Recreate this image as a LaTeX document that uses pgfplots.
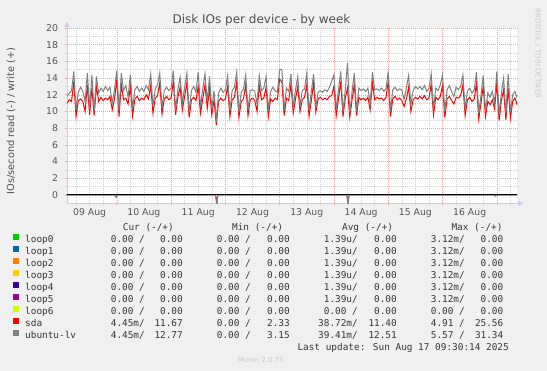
\documentclass[border=0pt]{standalone}
\usepackage{fontspec}
\setmainfont{DejaVu Sans}
\newfontfamily\mono{DejaVu Sans Mono}
\usepackage{pgfplots}
\pgfplotsset{compat=1.18}
\usepackage{pgfplotstable}
\usetikzlibrary{arrows.meta}

\definecolor{bgc}{RGB}{240,240,240}
\definecolor{mgrid}{RGB}{240,165,165}
\definecolor{mingrid}{RGB}{212,212,212}
\definecolor{axc}{RGB}{200,204,240}
\definecolor{titc}{RGB}{80,80,80}
\definecolor{tickc}{RGB}{85,85,85}
\definecolor{legc}{RGB}{55,55,55}
\definecolor{wmc}{RGB}{200,200,200}
\definecolor{cloopa}{HTML}{00CC00}
\definecolor{cloopb}{HTML}{0066B3}
\definecolor{cloopc}{HTML}{FF8000}
\definecolor{cloopd}{HTML}{FFCC00}
\definecolor{cloope}{HTML}{330099}
\definecolor{cloopf}{HTML}{990099}
\definecolor{cloopg}{HTML}{CCFF00}
\definecolor{csda}{HTML}{FF0000}
\definecolor{clv}{HTML}{808080}

% hour since 09 Aug 00:00, write IOs/s
\pgfplotstableread{
h sda lv
2 11.0 11.8
3 11.4 12.2
4 11.2 12.5
5 13.6 14.8
6 9.4 10.2
7 11.3 12.3
8 11.5 12.9
9 11.2 12.4
10 10.0 11.2
11 13.2 14.6
12 9.6 10.3
13 12.8 14.4
14 9.5 10.0
15 13.0 14.2
16 11.2 12.2
17 11.7 12.8
18 11.3 12.4
19 11.6 13.0
20 11.4 12.5
21 11.8 12.9
22 10.2 11.0
23 11.5 12.6
24 13.8 14.9
25 9.4 10.1
26 13.2 14.6
27 11.4 12.5
28 11.6 13.1
29 10.9 11.7
30 13.0 14.4
31 9.5 10.3
32 11.5 12.6
33 11.8 13.0
34 11.3 12.4
35 11.6 12.8
36 11.4 12.4
37 12.0 13.1
38 11.5 12.6
39 13.1 14.5
40 9.8 10.6
41 11.6 12.7
42 11.9 13.2
43 13.4 14.6
44 9.7 10.4
45 11.5 12.5
46 11.8 12.9
47 11.4 12.5
48 11.6 12.8
49 13.6 14.9
50 9.6 10.2
51 11.7 12.6
52 12.9 14.1
53 10.2 11.0
54 11.8 12.9
55 13.4 14.6
56 9.3 9.9
57 11.4 12.5
58 11.7 13.0
59 11.3 12.3
60 13.0 14.7
61 9.8 10.5
62 11.5 12.7
63 13.2 14.5
64 10.4 11.2
65 12.7 14.2
66 9.6 10.3
67 11.4 12.5
68 8.4 8.8
69 11.2 12.2
70 11.6 12.8
71 11.3 12.3
72 11.5 12.6
73 13.0 14.3
74 9.4 10.1
75 11.4 12.5
76 11.7 12.9
77 13.5 14.7
78 9.3 9.9
79 11.2 12.3
80 11.5 12.7
81 13.2 14.4
82 9.5 10.2
83 11.4 12.5
84 11.6 12.6
85 11.3 12.4
86 10.0 10.9
87 13.1 14.3
88 11.4 12.5
89 11.6 12.8
90 12.9 14.2
91 9.4 10.1
92 11.5 12.4
93 11.2 12.9
94 11.6 12.5
95 11.4 12.3
96 13.9 15.0
97 13.5 15.0
98 9.5 10.2
99 11.6 12.8
100 11.3 12.4
101 13.3 14.5
102 9.8 10.4
103 11.5 12.6
104 13.0 14.2
105 10.0 10.6
106 11.4 12.5
107 11.7 12.7
108 13.2 14.6
109 9.4 10.1
110 11.3 12.4
111 13.4 14.5
112 9.9 10.6
113 11.5 12.3
114 11.7 12.5
115 11.4 12.3
116 11.6 12.6
117 11.4 12.4
118 11.8 12.9
119 11.9 13.6
120 13.0 14.4
121 9.5 10.2
122 11.5 12.6
123 13.6 14.8
124 9.4 10.0
125 11.6 12.6
126 12.8 15.8
127 9.3 9.8
128 11.4 12.4
129 13.2 14.6
130 9.5 10.0
131 11.7 12.8
132 11.4 12.5
133 11.6 12.7
134 11.3 12.4
135 11.7 12.8
136 10.2 10.9
137 13.4 14.7
138 11.4 12.6
139 11.7 12.7
140 11.5 12.5
141 11.6 12.8
142 11.3 12.4
143 11.7 12.7
144 13.6 14.8
145 9.4 10.0
146 11.5 12.6
147 11.8 12.9
148 11.4 12.5
149 11.6 12.7
150 11.3 12.6
151 10.6 11.4
152 11.5 12.8
153 12.9 14.3
154 10.0 10.8
155 11.4 12.5
156 11.7 13.0
157 11.5 12.7
158 11.8 13.0
159 11.5 12.6
160 11.9 13.1
161 11.4 12.4
162 11.6 12.8
163 13.3 14.5
164 9.6 10.3
165 11.7 12.8
166 11.4 12.5
167 11.8 13.2
168 13.1 14.4
169 9.3 10.0
170 11.5 12.6
171 11.8 13.1
172 11.3 12.4
173 10.9 11.8
174 11.7 12.9
175 11.6 12.6
176 11.9 13.0
177 13.2 14.4
178 9.5 10.2
179 11.4 12.5
180 11.7 12.8
181 11.2 12.2
182 11.5 12.6
183 13.4 14.7
184 9.1 9.8
185 11.0 12.0
186 13.0 14.3
187 9.4 10.0
188 11.2 12.2
189 10.8 11.7
190 11.4 12.4
191 10.3 11.0
192 13.4 14.8
193 8.9 9.6
194 11.3 12.2
195 12.6 14.0
196 9.0 9.7
197 12.8 14.5
198 9.2 9.9
199 11.2 12.0
200 11.6 12.4
201 10.8 11.6
}\writedata

\newcommand\R[9]{%
  \node[anchor=base east,inner sep=0] at (145,#1) {#2};
  \node[anchor=base east,inner sep=0] at (183,#1) {#3};
  \node[anchor=base east,inner sep=0] at (251,#1) {#4};
  \node[anchor=base east,inner sep=0] at (290,#1) {#5};
  \node[anchor=base east,inner sep=0] at (358,#1) {#6};
  \node[anchor=base east,inner sep=0] at (397,#1) {#7};
  \node[anchor=base east,inner sep=0] at (465,#1) {#8};
  \node[anchor=base east,inner sep=0] at (503.5,#1) {#9};}
\newcommand\N[3]{%
  \fill[#2] (13.3,#1+3.2) rectangle ++(5.4,5.4);
  \node[anchor=base west,inner sep=0] at (25,#1) {#3};}

\begin{document}
\begin{tikzpicture}[x=1pt,y=1pt]
\fill[bgc] (0,0) rectangle (547,371);
\useasboundingbox (0,0) rectangle (547,371);
\begin{axis}[
  at={(67pt,167.7pt)}, anchor=south west,
  scale only axis, width=450.2pt, height=175.3pt,
  xmin=2, xmax=201, ymin=-1, ymax=20,
  axis lines=left,
  axis line style={draw=axc, line width=0.8pt, -{Triangle[length=5pt,width=5pt]}, shorten >=-6pt},
  axis background/.style={fill=white},
  xtick={24,48,...,192}, xticklabels={},
  minor xtick={6,12,...,198},
  ytick={0,2,...,20},
  minor ytick={1,3,...,19},
  grid=both,
  major grid style={draw=mgrid, dash pattern=on 1pt off 1pt, line width=0.5pt},
  minor grid style={draw=mingrid, dash pattern=on 1pt off 1pt, line width=0.5pt},
  tick align=outside, major tick length=2pt, minor tick length=1.5pt,
  major tick style={draw=mgrid, line width=0.6pt},
  minor tick style={draw=mingrid, line width=0.6pt},
  extra x ticks={12,36,60,84,108,132,156,180},
  extra x tick labels={09 Aug,10 Aug,11 Aug,12 Aug,13 Aug,14 Aug,15 Aug,16 Aug},
  extra x tick style={grid=none, major tick length=0pt, xticklabel style={yshift=-2pt}},
  ticklabel style={font=\fontsize{9.3}{11}\selectfont, text=tickc},
  yticklabel style={xshift=-3.5pt},
  /pgf/number format/assume math mode=true,
]
\addplot[cloopa, line width=1pt] coordinates {(2,0) (201,0)};
\addplot[cloopb, line width=1pt] coordinates {(2,0) (201,0)};
\addplot[cloopc, line width=1pt] coordinates {(2,0) (201,0)};
\addplot[cloopd, line width=1pt] coordinates {(2,0) (201,0)};
\addplot[cloope, line width=1pt] coordinates {(2,0) (201,0)};
\addplot[cloopf, line width=1pt] coordinates {(2,0) (201,0)};
\addplot[cloopg, line width=1pt] coordinates {(2,0) (201,0)};
% reads (negative side)
\addplot[csda, line width=1pt] coordinates {(2,0) (23.2,0) (23.7,-0.25) (24.2,0) (67.7,0) (68.2,-0.9) (68.7,0) (125.7,0) (126.2,-0.8) (126.7,0) (190.9,0) (191.4,-0.12) (191.9,0) (201,0)};
\addplot[clv, line width=1pt] coordinates {(2,0) (23.2,0) (23.7,-0.3) (24.2,0) (67.7,0) (68.2,-1.4) (68.7,0) (125.7,0) (126.2,-1.2) (126.7,0) (190.9,0) (191.4,-0.15) (191.9,0) (201,0)};
\addplot[black, line width=1.1pt] coordinates {(2,0) (201,0)};
% writes
\addplot[csda, line width=1pt] table[x=h,y=sda]{\writedata};
\addplot[clv, line width=1pt] table[x=h,y=lv]{\writedata};
\end{axis}

\node[anchor=base, text=titc, font=\fontsize{12}{14}\selectfont] at (261.5,347.7) {Disk IOs per device - by week};
\node[rotate=90, text=titc, font=\fontsize{9.8}{12}\selectfont] at (11,250) {IOs/second read (-) / write (+)};
\node[rotate=-90, text=wmc, font=\fontsize{7}{8}\selectfont] at (538,317.5) {RRDTOOL / TOBI OETIKER};

\begin{scope}[font=\mono\fontsize{9.4}{11}\selectfont, text=legc]
\node[anchor=base east,inner sep=0] at (174,140.5) {Cur (-/+)};
\node[anchor=base east,inner sep=0] at (283.3,140.5) {Min (-/+)};
\node[anchor=base east,inner sep=0] at (393.3,140.5) {Avg (-/+)};
\node[anchor=base east,inner sep=0] at (502.7,140.5) {Max (-/+)};
\N{128}{cloopa}{loop0}
\R{128}{0.00 /}{0.00}{0.00 /}{0.00}{1.39u/}{0.00}{3.12m/}{0.00}
\N{116}{cloopb}{loop1}
\R{116}{0.00 /}{0.00}{0.00 /}{0.00}{1.39u/}{0.00}{3.12m/}{0.00}
\N{104}{cloopc}{loop2}
\R{104}{0.00 /}{0.00}{0.00 /}{0.00}{1.39u/}{0.00}{3.12m/}{0.00}
\N{92}{cloopd}{loop3}
\R{92}{0.00 /}{0.00}{0.00 /}{0.00}{1.39u/}{0.00}{3.12m/}{0.00}
\N{80}{cloope}{loop4}
\R{80}{0.00 /}{0.00}{0.00 /}{0.00}{1.39u/}{0.00}{3.12m/}{0.00}
\N{68}{cloopf}{loop5}
\R{68}{0.00 /}{0.00}{0.00 /}{0.00}{1.39u/}{0.00}{3.12m/}{0.00}
\N{56}{cloopg}{loop6}
\R{56}{0.00 /}{0.00}{0.00 /}{0.00}{0.00 /}{0.00}{0.00 /}{0.00}
\N{44}{csda}{sda}
\R{44}{4.45m/}{11.67}{0.00 /}{2.33}{38.72m/}{11.40}{4.91 /}{25.56}
\N{32}{clv}{ubuntu-lv}
\R{32}{4.45m/}{12.77}{0.00 /}{3.15}{39.41m/}{12.51}{5.57 /}{31.34}
\node[anchor=base east,inner sep=0] at (509,20) {Last update: Sun Aug 17 09:30:14 2025};
\end{scope}
\node[anchor=base, inner sep=0, text=wmc, font=\fontsize{7}{8}\selectfont] at (260.7,8) {Munin 2.0.75};
\end{tikzpicture}
\end{document}
